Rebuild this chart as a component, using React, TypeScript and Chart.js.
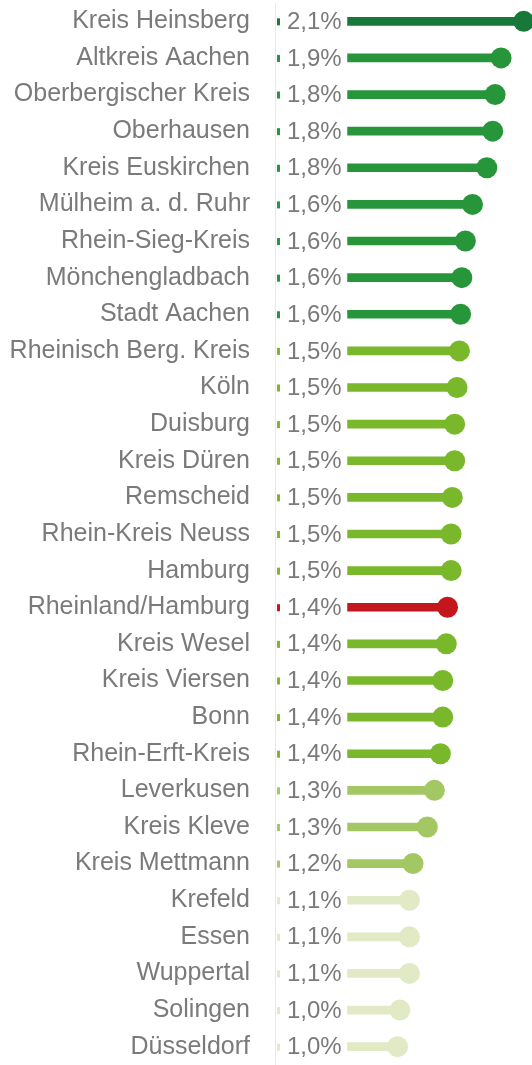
import React, { useEffect, useRef } from "react";
import { Chart, registerables } from "chart.js";

Chart.register(...registerables);

const regions: string[] = [
  "Kreis Heinsberg", "Altkreis Aachen", "Oberbergischer Kreis", "Oberhausen", "Kreis Euskirchen",
  "Mülheim a. d. Ruhr", "Rhein-Sieg-Kreis", "Mönchengladbach", "Stadt Aachen", "Rheinisch Berg. Kreis",
  "Köln", "Duisburg", "Kreis Düren", "Remscheid", "Rhein-Kreis Neuss", "Hamburg",
  "Rheinland/Hamburg", "Kreis Wesel", "Kreis Viersen", "Bonn", "Rhein-Erft-Kreis",
  "Leverkusen", "Kreis Kleve", "Kreis Mettmann", "Krefeld", "Essen", "Wuppertal", "Solingen", "Düsseldorf",
];

const values: number[] = [
  2.09, 1.90, 1.85, 1.83, 1.78, 1.66, 1.60, 1.57, 1.56, 1.55, 1.53, 1.51, 1.51, 1.49, 1.48, 1.48,
  1.45, 1.44, 1.41, 1.41, 1.39, 1.34, 1.28, 1.16, 1.13, 1.13, 1.13, 1.05, 1.03,
];

const valueLabels: string[] = [
  "2,1%", "1,9%", "1,8%", "1,8%", "1,8%", "1,6%", "1,6%", "1,6%", "1,6%", "1,5%", "1,5%", "1,5%",
  "1,5%", "1,5%", "1,5%", "1,5%", "1,4%", "1,4%", "1,4%", "1,4%", "1,4%", "1,3%", "1,3%", "1,2%",
  "1,1%", "1,1%", "1,1%", "1,0%", "1,0%",
];

const groups: string[] = [
  "top", "high", "high", "high", "high", "high", "high", "high", "high",
  "mid", "mid", "mid", "mid", "mid", "mid", "mid", "ref", "mid", "mid", "mid", "mid",
  "low", "low", "low", "pale", "pale", "pale", "pale", "pale",
];

const groupColors: Record<string, string> = {
  top: "#17783a",
  high: "#27963b",
  mid: "#79b82a",
  ref: "#c3161d",
  low: "#a2c763",
  pale: "#e1eac4",
};

const barStart = 0.61;
const axisMax = 2.16;

export default function App() {
  const ref = useRef<HTMLCanvasElement | null>(null);

  useEffect(() => {
    document.body.style.margin = "0";
    const colors = groups.map((g) => groupColors[g]);
    const textFont = '24px "Liberation Sans", Arial, sans-serif';

    const labelPlugin = {
      id: "valueLabels",
      afterDatasetsDraw(chart: any) {
        const { ctx, chartArea, scales } = chart;
        const ys = scales.y;
        ctx.save();
        ctx.font = textFont;
        ctx.textBaseline = "middle";
        ctx.textAlign = "left";
        valueLabels.forEach((t, i) => {
          const y = ys.getPixelForValue(i);
          ctx.fillStyle = colors[i];
          ctx.fillRect(chartArea.left + 2, y - 3, 3, 7);
          ctx.fillStyle = "#7a7a7a";
          ctx.fillText(t, chartArea.left + 12, y + 1);
        });
        ctx.restore();
      },
    };

    const chart = new Chart(ref.current as HTMLCanvasElement, {
      type: "bar",
      data: {
        labels: regions,
        datasets: [
          {
            type: "bar",
            indexAxis: "y",
            data: values.map((v) => [barStart, v]) as any,
            backgroundColor: colors,
            barThickness: 8,
            borderSkipped: false,
            grouped: false,
          } as any,
          {
            type: "line",
            indexAxis: "y",
            data: values as any,
            showLine: false,
            pointRadius: 10.5,
            pointHoverRadius: 10.5,
            pointBorderWidth: 0,
            pointBackgroundColor: colors,
            pointBorderColor: colors,
            clip: false,
          } as any,
        ],
      },
      options: {
        indexAxis: "y",
        animation: false,
        responsive: false,
        maintainAspectRatio: false,
        layout: { autoPadding: false, padding: { top: 3, bottom: 0, left: 0, right: 0 } },
        plugins: { legend: { display: false }, tooltip: { enabled: false } },
        scales: {
          x: { type: "linear", min: 0, max: axisMax, display: false },
          y: {
            type: "category",
            grid: { display: false, drawTicks: false },
            border: { display: true, color: "#e8e8e8", width: 1 },
            ticks: {
              color: "#7a7a7a",
              font: { family: '"Liberation Sans", Arial, sans-serif', size: 25 },
              padding: 25,
              autoSkip: false,
            },
            afterFit: (s: any) => {
              s.width = 275;
              s.paddingTop = 0;
              s.paddingBottom = 0;
            },
          } as any,
        },
      } as any,
      plugins: [labelPlugin],
    });
    return () => chart.destroy();
  }, []);

  return (
    <div style={{ position: "absolute", left: 0, top: 0, width: 532, height: 1065, background: "#fff" }}>
      <canvas ref={ref} width={532} height={1065} style={{ display: "block" }} />
    </div>
  );
}
